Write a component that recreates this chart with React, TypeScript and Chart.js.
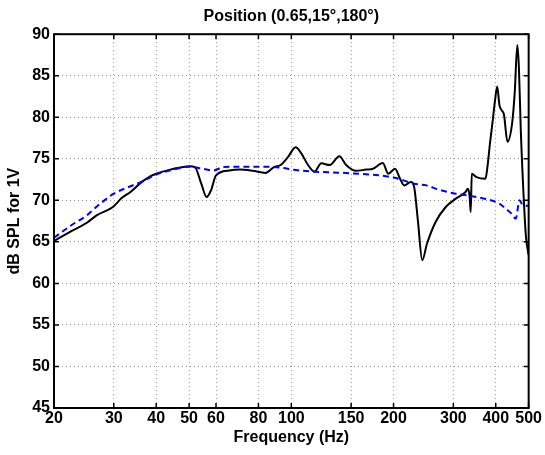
import { useEffect, useRef } from 'react';
import { Chart, registerables } from 'chart.js';

Chart.register(...registerables);

const titleText = 'Position (0.65,15°,180°)';
const xLabel = 'Frequency (Hz)';
const yLabel = 'dB SPL for 1V';

const xTicks = [20, 30, 40, 50, 60, 80, 100, 150, 200, 300, 400, 500];
const yTicks = [45, 50, 55, 60, 65, 70, 75, 80, 85, 90];

const measFreq = [20, 22.5, 25, 26.7, 29.3, 30, 31.7, 33.6, 36, 38.5, 40, 44, 48, 50, 52, 54.3, 56.3, 58, 60, 65.6, 70.5, 77, 84, 88.9, 93, 97.7, 103, 107, 112, 117, 122.5, 129.8, 138.5, 145, 155, 166, 174, 186, 193, 202, 209, 215, 225, 230, 236, 243, 251, 266, 285, 305, 326, 331, 335, 337.5, 340, 351, 373, 378, 385, 392, 398, 404, 410, 416, 423, 433, 447, 455, 463, 468, 474, 485, 491, 500];
const measSpl = [65.1, 66.3, 67.3, 68.2, 69.0, 69.3, 70.3, 71.0, 72.1, 72.9, 73.2, 73.7, 74.0, 74.1, 74.0, 72.0, 70.4, 71.2, 73.0, 73.6, 73.7, 73.55, 73.3, 74.0, 74.25, 75.2, 76.4, 75.65, 74.25, 73.45, 74.45, 74.25, 75.3, 74.25, 73.55, 73.7, 73.8, 74.5, 73.2, 73.8, 72.6, 71.8, 72.2, 71.6, 67.5, 62.8, 64.8, 67.4, 69.2, 70.2, 71.0, 71.4, 70.5, 68.6, 73.2, 72.8, 72.6, 74.0, 77.0, 79.65, 82.0, 83.7, 81.5, 80.86, 80.3, 77.05, 79.3, 83.0, 88.7, 86.0, 78.5, 69.2, 65.6, 63.4];

const refFreq = [20, 22.5, 25, 27, 30, 33.6, 36, 40, 45, 50, 55, 59, 63, 70, 82, 95, 100, 118, 150, 200, 230, 250, 271, 305, 340, 380, 410, 428, 445, 458, 470, 481, 500];
const refSpl = [65.5, 67.0, 68.2, 69.4, 70.8, 71.7, 72.2, 73.1, 73.7, 74.05, 73.8, 73.6, 74.0, 74.05, 74.05, 73.9, 73.7, 73.45, 73.25, 72.75, 72.0, 71.8, 71.3, 70.8, 70.5, 70.1, 69.6, 69.0, 68.4, 67.8, 70.0, 69.4, 69.35];

const FAMILY = '"Liberation Sans", Arial, Helvetica, sans-serif';

const framePlugin = {
  id: 'frame',
  afterDatasetsDraw(chart: any) {
    const { ctx, chartArea: a, scales } = chart;
    const L = 5;
    ctx.save();
    ctx.strokeStyle = '#000';
    ctx.lineWidth = 1.5;
    ctx.beginPath();
    scales.x.ticks.forEach((t: any) => {
      const px = scales.x.getPixelForValue(t.value);
      ctx.moveTo(px, a.bottom);
      ctx.lineTo(px, a.bottom - L);
      ctx.moveTo(px, a.top);
      ctx.lineTo(px, a.top + L);
    });
    scales.y.ticks.forEach((t: any) => {
      const py = scales.y.getPixelForValue(t.value);
      ctx.moveTo(a.left, py);
      ctx.lineTo(a.left + L, py);
      ctx.moveTo(a.right, py);
      ctx.lineTo(a.right - L, py);
    });
    ctx.stroke();
    ctx.lineWidth = 2;
    ctx.strokeRect(a.left, a.top, a.right - a.left, a.bottom - a.top);
    ctx.restore();
  },
};

export default function App() {
  const ref = useRef<HTMLCanvasElement>(null);

  useEffect(() => {
    if (!ref.current) return;
    const chart = new Chart(ref.current, {
      type: 'line',
      data: {
        datasets: [
          {
            label: 'reference',
            data: refFreq.map((f, i) => ({ x: f, y: refSpl[i] })),
            borderColor: '#0000ff',
            borderWidth: 2,
            borderDash: [6, 4],
            pointRadius: 0,
            fill: false,
            cubicInterpolationMode: 'monotone',
            order: 0,
          },
          {
            label: 'measured',
            data: measFreq.map((f, i) => ({ x: f, y: measSpl[i] })),
            borderColor: '#000',
            borderWidth: 2,
            pointRadius: 0,
            fill: false,
            cubicInterpolationMode: 'monotone',
            order: 1,
          },
        ],
      },
      options: {
        animation: false,
        responsive: false,
        layout: { padding: { left: 0, right: 15, top: 0, bottom: 0 } },
        plugins: {
          legend: { display: false },
          tooltip: { enabled: false },
          title: {
            display: true,
            fullSize: false,
            text: titleText,
            color: '#000',
            font: { family: FAMILY, size: 16, weight: 'bold' },
            padding: { top: 7, bottom: 8 },
          },
        },
        scales: {
          x: {
            type: 'logarithmic',
            min: 20,
            max: 500,
            afterBuildTicks: (s: any) => {
              s.ticks = xTicks.map((v) => ({ value: v }));
            },
            afterFit: (s: any) => {
              s.height = 47;
            },
            ticks: {
              color: '#000',
              font: { family: FAMILY, size: 16, weight: 'bold', lineHeight: 1 },
              padding: 3,
              autoSkip: false,
              maxRotation: 0,
              callback: (v: any) => String(v),
            },
            grid: { color: '#999', lineWidth: 1, drawTicks: false },
            border: { display: false, dash: [1, 3] },
            title: {
              display: true,
              text: xLabel,
              color: '#000',
              font: { family: FAMILY, size: 16, weight: 'bold' },
              padding: { top: 0, bottom: 8 },
            },
          },
          y: {
            type: 'linear',
            min: 45,
            max: 90,
            afterBuildTicks: (s: any) => {
              s.ticks = yTicks.map((v) => ({ value: v }));
            },
            afterFit: (s: any) => {
              s.width = 54;
            },
            ticks: {
              color: '#000',
              font: { family: FAMILY, size: 16, weight: 'bold' },
              padding: 4,
              callback: (v: any) => String(v),
            },
            grid: { color: '#999', lineWidth: 1, drawTicks: false },
            border: { display: false, dash: [1, 3] },
            title: {
              display: true,
              text: yLabel,
              color: '#000',
              font: { family: FAMILY, size: 16, weight: 'bold' },
              padding: { top: 5, bottom: 0 },
            },
          },
        },
      },
      plugins: [framePlugin],
    } as any);
    return () => chart.destroy();
  }, []);

  return (
    <div style={{ position: 'absolute', left: 0, top: 0, width: 545, height: 455, background: '#fff' }}>
      <canvas ref={ref} width={545} height={455} />
    </div>
  );
}
